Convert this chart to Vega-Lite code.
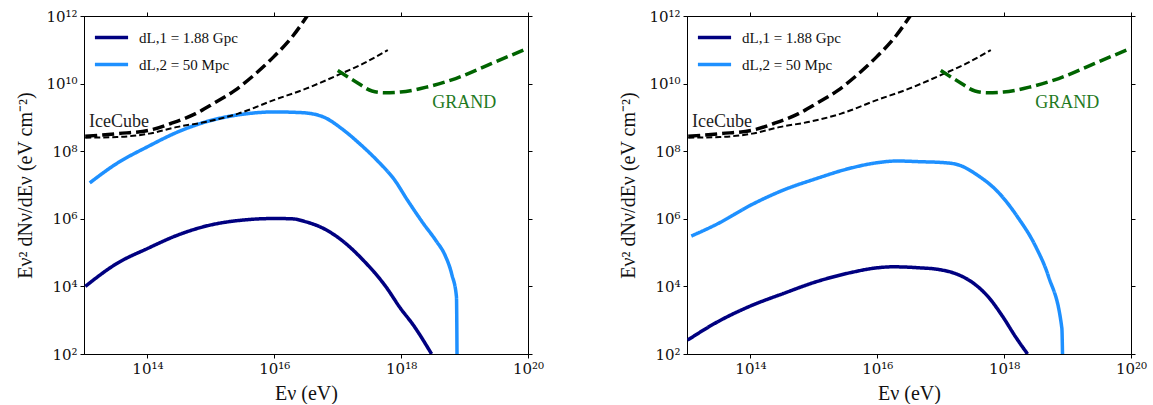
{
  "$schema": "https://vega.github.io/schema/vega-lite/v6.json",
  "padding": {"left": 15, "top": 8, "right": 0, "bottom": 0},
  "config": {
    "font": "Liberation Serif",
    "view": {"stroke": "black", "strokeWidth": 1},
    "axis": {"grid": false, "domainColor": "black", "tickColor": "black", "tickSize": 4, "labelFont": "DejaVu Serif", "labelFontSize": 15, "labelColor": "#111", "titleFontSize": 20, "titleFontWeight": "normal", "titleColor": "#111", "labelFlush": false, "labelOverlap": false, "labelPadding": 3},
    "axisLeft": {"titlePadding": 10},
    "axisBottom": {"titlePadding": 7}
  },
  "datasets": {
    "curves": [
      {"p": "L", "s": "dL,1 = 1.88 Gpc", "E": 1.047e13, "F": 1.0e4},
      {"p": "L", "s": "dL,1 = 1.88 Gpc", "E": 3.31e13, "F": 4.79e4},
      {"p": "L", "s": "dL,1 = 1.88 Gpc", "E": 1e14, "F": 1.32e5},
      {"p": "L", "s": "dL,1 = 1.88 Gpc", "E": 3.02e14, "F": 3.31e5},
      {"p": "L", "s": "dL,1 = 1.88 Gpc", "E": 9.55e14, "F": 6.46e5},
      {"p": "L", "s": "dL,1 = 1.88 Gpc", "E": 3.09e15, "F": 9.12e5},
      {"p": "L", "s": "dL,1 = 1.88 Gpc", "E": 1e16, "F": 1.02e6},
      {"p": "L", "s": "dL,1 = 1.88 Gpc", "E": 1.91e16, "F": 1.0e6},
      {"p": "L", "s": "dL,1 = 1.88 Gpc", "E": 3.16e16, "F": 8.13e5},
      {"p": "L", "s": "dL,1 = 1.88 Gpc", "E": 6.03e16, "F": 5.13e5},
      {"p": "L", "s": "dL,1 = 1.88 Gpc", "E": 1.15e17, "F": 2.34e5},
      {"p": "L", "s": "dL,1 = 1.88 Gpc", "E": 2.51e17, "F": 6.03e4},
      {"p": "L", "s": "dL,1 = 1.88 Gpc", "E": 5.75e17, "F": 9.77e3},
      {"p": "L", "s": "dL,1 = 1.88 Gpc", "E": 9.77e17, "F": 2.24e3},
      {"p": "L", "s": "dL,1 = 1.88 Gpc", "E": 1.55e18, "F": 724},
      {"p": "L", "s": "dL,1 = 1.88 Gpc", "E": 3.02e18, "F": 100},
      {"p": "L", "s": "dL,2 = 50 Mpc", "E": 1.23e13, "F": 1.15e7},
      {"p": "L", "s": "dL,2 = 50 Mpc", "E": 3.31e13, "F": 4.37e7},
      {"p": "L", "s": "dL,2 = 50 Mpc", "E": 1e14, "F": 1.35e8},
      {"p": "L", "s": "dL,2 = 50 Mpc", "E": 3.02e14, "F": 3.72e8},
      {"p": "L", "s": "dL,2 = 50 Mpc", "E": 9.55e14, "F": 7.94e8},
      {"p": "L", "s": "dL,2 = 50 Mpc", "E": 3.09e15, "F": 1.23e9},
      {"p": "L", "s": "dL,2 = 50 Mpc", "E": 1e16, "F": 1.45e9},
      {"p": "L", "s": "dL,2 = 50 Mpc", "E": 2.75e16, "F": 1.38e9},
      {"p": "L", "s": "dL,2 = 50 Mpc", "E": 6.03e16, "F": 1.02e9},
      {"p": "L", "s": "dL,2 = 50 Mpc", "E": 1.15e17, "F": 4.68e8},
      {"p": "L", "s": "dL,2 = 50 Mpc", "E": 2.19e17, "F": 1.70e8},
      {"p": "L", "s": "dL,2 = 50 Mpc", "E": 4.17e17, "F": 5.37e7},
      {"p": "L", "s": "dL,2 = 50 Mpc", "E": 7.94e17, "F": 1.38e7},
      {"p": "L", "s": "dL,2 = 50 Mpc", "E": 1.26e18, "F": 3.55e6},
      {"p": "L", "s": "dL,2 = 50 Mpc", "E": 2.24e18, "F": 7.24e5},
      {"p": "L", "s": "dL,2 = 50 Mpc", "E": 3.55e18, "F": 2.24e5},
      {"p": "L", "s": "dL,2 = 50 Mpc", "E": 4.90e18, "F": 8.51e4},
      {"p": "L", "s": "dL,2 = 50 Mpc", "E": 6.3e18, "F": 2.24e4},
      {"p": "L", "s": "dL,2 = 50 Mpc", "E": 7.45e18, "F": 4.90e3},
      {"p": "L", "s": "dL,2 = 50 Mpc", "E": 7.60e18, "F": 100},
      {"p": "R", "s": "dL,1 = 1.88 Gpc", "E": 1.02e13, "F": 257},
      {"p": "R", "s": "dL,1 = 1.88 Gpc", "E": 3.09e13, "F": 912},
      {"p": "R", "s": "dL,1 = 1.88 Gpc", "E": 1e14, "F": 2.63e3},
      {"p": "R", "s": "dL,1 = 1.88 Gpc", "E": 3.31e14, "F": 6.17e3},
      {"p": "R", "s": "dL,1 = 1.88 Gpc", "E": 1.10e15, "F": 1.38e4},
      {"p": "R", "s": "dL,1 = 1.88 Gpc", "E": 3.63e15, "F": 2.51e4},
      {"p": "R", "s": "dL,1 = 1.88 Gpc", "E": 1e16, "F": 3.55e4},
      {"p": "R", "s": "dL,1 = 1.88 Gpc", "E": 1.78e16, "F": 3.80e4},
      {"p": "R", "s": "dL,1 = 1.88 Gpc", "E": 4.57e16, "F": 3.55e4},
      {"p": "R", "s": "dL,1 = 1.88 Gpc", "E": 9.33e16, "F": 3.16e4},
      {"p": "R", "s": "dL,1 = 1.88 Gpc", "E": 1.70e17, "F": 2.40e4},
      {"p": "R", "s": "dL,1 = 1.88 Gpc", "E": 3.31e17, "F": 1.23e4},
      {"p": "R", "s": "dL,1 = 1.88 Gpc", "E": 5.62e17, "F": 4.90e3},
      {"p": "R", "s": "dL,1 = 1.88 Gpc", "E": 9.55e17, "F": 1.26e3},
      {"p": "R", "s": "dL,1 = 1.88 Gpc", "E": 1.51e18, "F": 324},
      {"p": "R", "s": "dL,1 = 1.88 Gpc", "E": 2.34e18, "F": 100},
      {"p": "R", "s": "dL,2 = 50 Mpc", "E": 1.17e13, "F": 3.09e5},
      {"p": "R", "s": "dL,2 = 50 Mpc", "E": 3.09e13, "F": 7.24e5},
      {"p": "R", "s": "dL,2 = 50 Mpc", "E": 1e14, "F": 2.51e6},
      {"p": "R", "s": "dL,2 = 50 Mpc", "E": 3.31e14, "F": 7.08e6},
      {"p": "R", "s": "dL,2 = 50 Mpc", "E": 1.10e15, "F": 1.55e7},
      {"p": "R", "s": "dL,2 = 50 Mpc", "E": 3.63e15, "F": 3.09e7},
      {"p": "R", "s": "dL,2 = 50 Mpc", "E": 1e16, "F": 4.57e7},
      {"p": "R", "s": "dL,2 = 50 Mpc", "E": 2.04e16, "F": 5.13e7},
      {"p": "R", "s": "dL,2 = 50 Mpc", "E": 4.57e16, "F": 4.90e7},
      {"p": "R", "s": "dL,2 = 50 Mpc", "E": 1.15e17, "F": 4.57e7},
      {"p": "R", "s": "dL,2 = 50 Mpc", "E": 1.95e17, "F": 3.89e7},
      {"p": "R", "s": "dL,2 = 50 Mpc", "E": 3.80e17, "F": 1.95e7},
      {"p": "R", "s": "dL,2 = 50 Mpc", "E": 7.94e17, "F": 6.31e6},
      {"p": "R", "s": "dL,2 = 50 Mpc", "E": 1.62e18, "F": 1.15e6},
      {"p": "R", "s": "dL,2 = 50 Mpc", "E": 3.16e18, "F": 1.48e5},
      {"p": "R", "s": "dL,2 = 50 Mpc", "E": 5.01e18, "F": 1.95e4},
      {"p": "R", "s": "dL,2 = 50 Mpc", "E": 8.13e18, "F": 575},
      {"p": "R", "s": "dL,2 = 50 Mpc", "E": 8.32e18, "F": 100},
      {"p": "B", "s": "IceCube A", "E": 1.047e13, "F": 2.75e8},
      {"p": "B", "s": "IceCube A", "E": 3.31e13, "F": 3.31e8},
      {"p": "B", "s": "IceCube A", "E": 1.07e14, "F": 4.17e8},
      {"p": "B", "s": "IceCube A", "E": 2.34e14, "F": 6.61e8},
      {"p": "B", "s": "IceCube A", "E": 5.75e14, "F": 1.29e9},
      {"p": "B", "s": "IceCube A", "E": 1.10e15, "F": 2.57e9},
      {"p": "B", "s": "IceCube A", "E": 2.40e15, "F": 6.31e9},
      {"p": "B", "s": "IceCube A", "E": 5.13e15, "F": 2.0e10},
      {"p": "B", "s": "IceCube A", "E": 9.77e15, "F": 6.17e10},
      {"p": "B", "s": "IceCube A", "E": 1.91e16, "F": 2.40e11},
      {"p": "B", "s": "IceCube A", "E": 3.3e16, "F": 1.0e12},
      {"p": "B", "s": "IceCube B", "E": 1.047e13, "F": 2.51e8},
      {"p": "B", "s": "IceCube B", "E": 3.31e13, "F": 2.63e8},
      {"p": "B", "s": "IceCube B", "E": 1.07e14, "F": 3.31e8},
      {"p": "B", "s": "IceCube B", "E": 3.02e14, "F": 5.25e8},
      {"p": "B", "s": "IceCube B", "E": 8.51e14, "F": 7.41e8},
      {"p": "B", "s": "IceCube B", "E": 2.69e15, "F": 1.29e9},
      {"p": "B", "s": "IceCube B", "E": 9.77e15, "F": 3.24e9},
      {"p": "B", "s": "IceCube B", "E": 3.16e16, "F": 7.08e9},
      {"p": "B", "s": "IceCube B", "E": 1e17, "F": 1.78e10},
      {"p": "B", "s": "IceCube B", "E": 2.51e17, "F": 3.89e10},
      {"p": "B", "s": "IceCube B", "E": 6.17e17, "F": 9.77e10},
      {"p": "B", "s": "GRAND", "E": 1e17, "F": 2.45e10},
      {"p": "B", "s": "GRAND", "E": 1.95e17, "F": 1.12e10},
      {"p": "B", "s": "GRAND", "E": 3.47e17, "F": 6.03e9},
      {"p": "B", "s": "GRAND", "E": 5.50e17, "F": 5.37e9},
      {"p": "B", "s": "GRAND", "E": 9.77e17, "F": 5.62e9},
      {"p": "B", "s": "GRAND", "E": 2.57e18, "F": 7.94e9},
      {"p": "B", "s": "GRAND", "E": 7.24e18, "F": 1.41e10},
      {"p": "B", "s": "GRAND", "E": 2.63e19, "F": 3.89e10},
      {"p": "B", "s": "GRAND", "E": 1e20, "F": 1.12e11}
    ],
    "labels": [
      {"t": "IceCube", "E": 1.2e13, "F": 5.2e8},
      {"t": "GRAND", "E": 3.1e18, "F": 1.9e9}
    ]
  },
  "spacing": 159,
  "bounds": "flush",
  "resolve": {"scale": {"color": "independent", "strokeDash": "independent", "strokeWidth": "independent"}, "legend": {"color": "independent"}},
  "hconcat": [
    {
      "width": 444, "height": 338,
      "resolve": {"axis": {"x": "independent", "y": "independent"}},
      "layer": [
        {
          "data": {"name": "curves"},
          "transform": [{"filter": "datum.p == 'L' || datum.p == 'B'"}],
          "mark": {"type": "line", "clip": true, "strokeCap": "butt", "interpolate": "monotone"},
          "encoding": {
            "x": {"field": "E", "type": "quantitative", "scale": {"type": "log", "domain": [1e13, 1e20]}, "axis": {"orient": "bottom", "title": "Eν (eV)", "values": [1e14, 1e16, 1e18, 1e20], "labelExpr": "datum.value == 1e14 ? '10¹⁴' : datum.value == 1e16 ? '10¹⁶' : datum.value == 1e18 ? '10¹⁸' : datum.value == 1e20 ? '10²⁰' : ''"}},
            "y": {"field": "F", "type": "quantitative", "scale": {"type": "log", "domain": [1e2, 1e12]}, "axis": {"orient": "left", "title": "Eν² dNν/dEν (eV cm⁻²)", "values": [1e2, 1e4, 1e6, 1e8, 1e10, 1e12], "labelExpr": "datum.value == 1e2 ? '10²' : datum.value == 1e4 ? '10⁴' : datum.value == 1e6 ? '10⁶' : datum.value == 1e8 ? '10⁸' : datum.value == 1e10 ? '10¹⁰' : datum.value == 1e12 ? '10¹²' : ''"}},
            "color": {"field": "s", "type": "nominal", "scale": {"domain": ["dL,1 = 1.88 Gpc", "dL,2 = 50 Mpc", "IceCube A", "IceCube B", "GRAND"], "range": ["#000080", "#1e90ff", "#000000", "#000000", "#006400"]},
              "legend": {"values": ["dL,1 = 1.88 Gpc", "dL,2 = 50 Mpc"], "title": null, "orient": "top-left", "offset": 3, "symbolOffset": 6, "symbolType": "stroke", "symbolSize": 1100, "symbolStrokeWidth": 4, "labelFontSize": 15, "labelOffset": 9, "labelColor": "#111", "rowPadding": -20}},
            "strokeDash": {"field": "s", "type": "nominal", "scale": {"domain": ["dL,1 = 1.88 Gpc", "dL,2 = 50 Mpc", "IceCube A", "IceCube B", "GRAND"], "range": [[1, 0], [1, 0], [12, 5], [6, 3], [12, 5]]}, "legend": null},
            "strokeWidth": {"field": "s", "type": "nominal", "scale": {"type": "ordinal", "domain": ["dL,1 = 1.88 Gpc", "dL,2 = 50 Mpc", "IceCube A", "IceCube B", "GRAND"], "range": [3.5, 3.5, 3.5, 2, 3.5]}, "legend": null}
          }
        },
        {
          "data": {"name": "labels"},
          "transform": [{"filter": "datum.t == 'IceCube'"}],
          "mark": {"type": "text", "align": "left", "baseline": "alphabetic", "fontSize": 18, "color": "#222"},
          "encoding": {
            "x": {"field": "E", "type": "quantitative", "axis": null},
            "y": {"field": "F", "type": "quantitative", "axis": null},
            "text": {"field": "t"}
          }
        },
        {
          "data": {"name": "labels"},
          "transform": [{"filter": "datum.t == 'GRAND'"}],
          "mark": {"type": "text", "align": "left", "baseline": "alphabetic", "fontSize": 18, "color": "#1f7a1f"},
          "encoding": {
            "x": {"field": "E", "type": "quantitative", "axis": null},
            "y": {"field": "F", "type": "quantitative", "axis": null},
            "text": {"field": "t"}
          }
        },
        {
          "data": {"name": "labels"},
          "mark": {"type": "point", "opacity": 0},
          "encoding": {
            "x": {"field": "E", "type": "quantitative", "axis": {"orient": "top", "labels": false, "title": null, "values": [1e14, 1e16, 1e18, 1e20]}},
            "y": {"field": "F", "type": "quantitative", "axis": {"orient": "right", "labels": false, "title": null, "values": [1e2, 1e4, 1e6, 1e8, 1e10, 1e12]}}
          }
        }
      ]
    },
    {
      "width": 444, "height": 338,
      "resolve": {"axis": {"x": "independent", "y": "independent"}},
      "layer": [
        {
          "data": {"name": "curves"},
          "transform": [{"filter": "datum.p == 'R' || datum.p == 'B'"}],
          "mark": {"type": "line", "clip": true, "strokeCap": "butt", "interpolate": "monotone"},
          "encoding": {
            "x": {"field": "E", "type": "quantitative", "scale": {"type": "log", "domain": [1e13, 1e20]}, "axis": {"orient": "bottom", "title": "Eν (eV)", "values": [1e14, 1e16, 1e18, 1e20], "labelExpr": "datum.value == 1e14 ? '10¹⁴' : datum.value == 1e16 ? '10¹⁶' : datum.value == 1e18 ? '10¹⁸' : datum.value == 1e20 ? '10²⁰' : ''"}},
            "y": {"field": "F", "type": "quantitative", "scale": {"type": "log", "domain": [1e2, 1e12]}, "axis": {"orient": "left", "title": "Eν² dNν/dEν (eV cm⁻²)", "values": [1e2, 1e4, 1e6, 1e8, 1e10, 1e12], "labelExpr": "datum.value == 1e2 ? '10²' : datum.value == 1e4 ? '10⁴' : datum.value == 1e6 ? '10⁶' : datum.value == 1e8 ? '10⁸' : datum.value == 1e10 ? '10¹⁰' : datum.value == 1e12 ? '10¹²' : ''"}},
            "color": {"field": "s", "type": "nominal", "scale": {"domain": ["dL,1 = 1.88 Gpc", "dL,2 = 50 Mpc", "IceCube A", "IceCube B", "GRAND"], "range": ["#000080", "#1e90ff", "#000000", "#000000", "#006400"]},
              "legend": {"values": ["dL,1 = 1.88 Gpc", "dL,2 = 50 Mpc"], "title": null, "orient": "top-left", "offset": 3, "symbolOffset": 6, "symbolType": "stroke", "symbolSize": 1100, "symbolStrokeWidth": 4, "labelFontSize": 15, "labelOffset": 9, "labelColor": "#111", "rowPadding": -20}},
            "strokeDash": {"field": "s", "type": "nominal", "scale": {"domain": ["dL,1 = 1.88 Gpc", "dL,2 = 50 Mpc", "IceCube A", "IceCube B", "GRAND"], "range": [[1, 0], [1, 0], [12, 5], [6, 3], [12, 5]]}, "legend": null},
            "strokeWidth": {"field": "s", "type": "nominal", "scale": {"type": "ordinal", "domain": ["dL,1 = 1.88 Gpc", "dL,2 = 50 Mpc", "IceCube A", "IceCube B", "GRAND"], "range": [3.5, 3.5, 3.5, 2, 3.5]}, "legend": null}
          }
        },
        {
          "data": {"name": "labels"},
          "transform": [{"filter": "datum.t == 'IceCube'"}],
          "mark": {"type": "text", "align": "left", "baseline": "alphabetic", "fontSize": 18, "color": "#222"},
          "encoding": {
            "x": {"field": "E", "type": "quantitative", "axis": null},
            "y": {"field": "F", "type": "quantitative", "axis": null},
            "text": {"field": "t"}
          }
        },
        {
          "data": {"name": "labels"},
          "transform": [{"filter": "datum.t == 'GRAND'"}],
          "mark": {"type": "text", "align": "left", "baseline": "alphabetic", "fontSize": 18, "color": "#1f7a1f"},
          "encoding": {
            "x": {"field": "E", "type": "quantitative", "axis": null},
            "y": {"field": "F", "type": "quantitative", "axis": null},
            "text": {"field": "t"}
          }
        },
        {
          "data": {"name": "labels"},
          "mark": {"type": "point", "opacity": 0},
          "encoding": {
            "x": {"field": "E", "type": "quantitative", "axis": {"orient": "top", "labels": false, "title": null, "values": [1e14, 1e16, 1e18, 1e20]}},
            "y": {"field": "F", "type": "quantitative", "axis": {"orient": "right", "labels": false, "title": null, "values": [1e2, 1e4, 1e6, 1e8, 1e10, 1e12]}}
          }
        }
      ]
    }
  ]
}
